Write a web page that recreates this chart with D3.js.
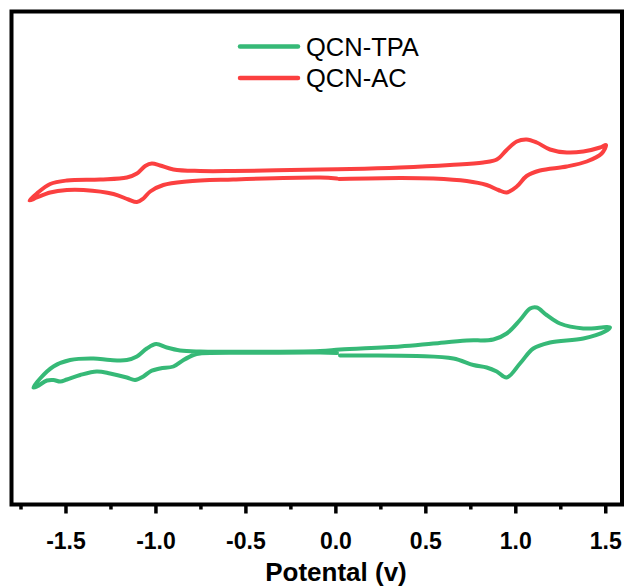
<!DOCTYPE html>
<html>
<head>
<meta charset="utf-8">
<script src="https://cdn.jsdelivr.net/npm/d3@7"></script>
<style>
    body { margin: 0; background: #fff; }
    svg { display: block; font-family: Arial, "Liberation Sans", sans-serif; }
</style>
</head>
<body>
<svg id="chart" width="626" height="588"></svg>
<script>
// scan data, potential (V) vs current (arb. units)
const tpaV = [0.009, -0.085, -0.474, -0.752, -0.789, -0.844, -0.9, -0.974, -1.029, -1.067, -1.113, -1.159, -1.252, -1.326,
    -1.418, -1.492, -1.529, -1.567, -1.603, -1.659, -1.678,
    -1.641, -1.567, -1.474, -1.344, -1.252, -1.159, -1.103, -1.048, -0.996, -0.937, -0.863, -0.752, -0.085, 0.026,
    0.359, 0.544, 0.73, 0.878, 0.952, 1.026, 1.082, 1.119, 1.174, 1.248, 1.378, 1.526,
    1.498, 1.378, 1.193, 1.1, 1.026, 0.952, 0.897, 0.841, 0.767, 0.656, 0.452, 0.174, 0.026];
const tpaI = [-10.6, -10.5, -10.56, -10.7, -11.0, -12.0, -13.3, -13.7, -14.3, -15.3, -16.0, -15.5, -14.7, -14.3,
    -15.0, -15.9, -16.3, -16.0, -16.1, -17.3, -17.5,
    -15.7, -13.3, -12.0, -11.7, -12.0, -12.0, -11.3, -9.7, -8.8, -9.5, -10.1, -10.3, -10.2, -9.9,
    -9.3, -8.7, -8.1, -7.9, -6.7, -4.0, -1.7, -1.5, -3.0, -4.7, -5.7, -5.5,
    -6.3, -7.7, -8.5, -9.7, -12.7, -15.5, -14.3, -13.5, -13.0, -11.7, -11.2, -11.1, -11.1];

const acV = [0.008, -0.085, -0.568, -0.826, -0.956, -1.029, -1.067, -1.103, -1.15, -1.233, -1.4, -1.492, -1.585, -1.659, -1.70,
    -1.659, -1.585, -1.492, -1.307, -1.159, -1.103, -1.057, -1.02, -0.974, -0.9, -0.752, -0.568, -0.085, 0.082,
    0.359, 0.637, 0.822, 0.897, 0.952, 1.008, 1.063, 1.119, 1.193, 1.286, 1.378, 1.471, 1.504,
    1.48, 1.397, 1.286, 1.137, 1.063, 1.008, 0.952, 0.906, 0.841, 0.73, 0.544, 0.359, 0.02];
const acI = [24.3, 24.5, 24.1, 23.7, 23.0, 21.7, 20.3, 19.6, 20.1, 21.2, 22.0, 22.0, 21.5, 20.5, 19.9,
    21.3, 23.2, 23.9, 24.1, 24.5, 25.3, 26.8, 27.3, 26.9, 26.1, 25.8, 25.8, 26.1, 26.2,
    26.5, 27.0, 27.5, 28.1, 30.0, 31.7, 32.1, 31.5, 30.1, 29.5, 29.7, 30.5, 31.0,
    29.3, 27.7, 26.7, 25.9, 24.8, 22.7, 21.5, 22.0, 23.0, 23.8, 24.3, 24.4, 24.2];

const seriesNames = ["QCN-TPA", "QCN-AC"];
const seriesColors = ["#36b977", "#fb4040"];
const xTicks = [-1.5, -1.0, -0.5, 0.0, 0.5, 1.0, 1.5];

const svg = d3.select("#chart");
const plotLeft = 11.5, plotRight = 622, plotTop = 11.5, plotBottom = 504.5;

const x = d3.scaleLinear().domain([-1.8, 1.593]).range([plotLeft, plotRight]);
const y = d3.scaleLinear().domain([-40.9, 57.7]).range([plotBottom, plotTop]);

const series = [
    {name: seriesNames[0], color: seriesColors[0], pts: tpaV.map((v, i) => [v, tpaI[i]])},
    {name: seriesNames[1], color: seriesColors[1], pts: acV.map((v, i) => [v, acI[i]])}
];

const line = d3.line()
    .x(function (d) { return x(d[0]); })
    .y(function (d) { return y(d[1]); })
    .curve(d3.curveCatmullRom.alpha(0.5));

svg.append("g")
    .selectAll("path")
    .data(series)
    .enter()
    .append("path")
    .attr("d", function (d) { return line(d.pts); })
    .attr("fill", "none")
    .attr("stroke", function (d) { return d.color; })
    .attr("stroke-width", 4)
    .attr("stroke-linejoin", "round")
    .attr("stroke-linecap", "round");

// minor ticks every 0.25
const minor = d3.range(-1.75, 1.6, 0.25).filter(function (v) {
    return Math.abs(Math.round(v * 2) - v * 2) > 0.01;
});
svg.append("g")
    .attr("transform", "translate(0," + plotBottom + ")")
    .call(d3.axisBottom(x).tickValues(minor).tickSize(5).tickFormat(""))
    .call(function (g) {
        g.select(".domain").remove();
        g.selectAll("line").attr("stroke", "#000").attr("stroke-width", 3.5);
    });

const xAxis = svg.append("g")
    .attr("transform", "translate(0," + plotBottom + ")")
    .call(d3.axisBottom(x).tickValues(xTicks).tickSize(9).tickPadding(19)
        .tickFormat(function (d) { return d3.format(".1f")(d).replace("−", "-"); }));
xAxis.select(".domain").remove();
xAxis.selectAll("line").attr("stroke", "#000").attr("stroke-width", 3.5);
xAxis.selectAll("text")
    .attr("fill", "#000")
    .attr("font-size", "23px")
    .attr("font-weight", "bold")
    .attr("font-family", "Arial, 'Liberation Sans', sans-serif");

// frame
svg.append("rect")
    .attr("x", plotLeft).attr("y", plotTop)
    .attr("width", plotRight - plotLeft).attr("height", plotBottom - plotTop)
    .attr("fill", "none")
    .attr("stroke", "#000")
    .attr("stroke-width", 4);

svg.append("text")
    .attr("x", 336)
    .attr("y", 581)
    .attr("text-anchor", "middle")
    .attr("font-size", "26px")
    .attr("font-weight", "bold")
    .text("Potental (v)");

// legend
const legend = svg.append("g")
    .selectAll("g")
    .data(series)
    .enter()
    .append("g")
    .attr("transform", function (d, i) { return "translate(240," + (46.5 + i * 31.5) + ")"; });

legend.append("line")
    .attr("x1", 0).attr("x2", 58)
    .attr("stroke", function (d) { return d.color; })
    .attr("stroke-width", 4.5)
    .attr("stroke-linecap", "round");

legend.append("text")
    .attr("x", 66)
    .attr("y", 9)
    .attr("font-size", "25.5px")
    .text(function (d) { return d.name; });
</script>
</body>
</html>
